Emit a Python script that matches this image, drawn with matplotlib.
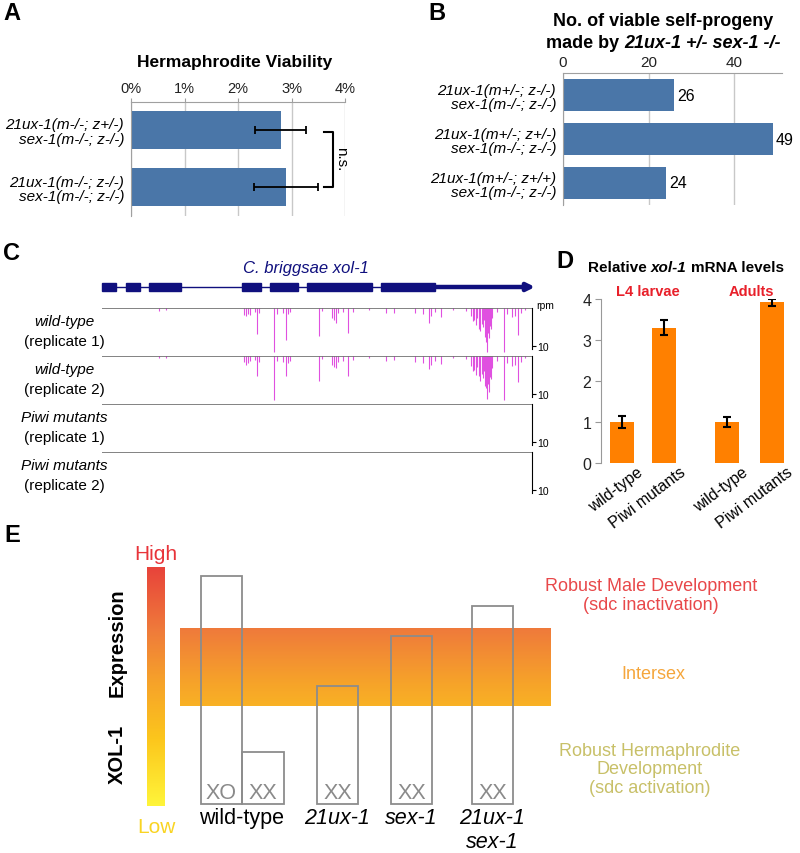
import numpy as np
import matplotlib
matplotlib.use("Agg")
import matplotlib.pyplot as plt
from matplotlib.colors import LinearSegmentedColormap, Normalize

plt.rcParams['font.family'] = ['Liberation Sans', 'DejaVu Sans']

# ======================= DATA =======================
# Panel A - Hermaphrodite viability (%)
a_labels = ["21ux-1(m-/-; z+/-)\nsex-1(m-/-; z-/-)",
            "21ux-1(m-/-; z-/-)\nsex-1(m-/-; z-/-)"]
a_values = [2.80, 2.90]
a_errors = [0.48, 0.60]
a_ticks = [0, 1, 2, 3, 4]
a_ticklabels = ["0%", "1%", "2%", "3%", "4%"]

# Panel B - number of viable self-progeny
b_labels = ["21ux-1(m+/-; z-/-)\nsex-1(m-/-; z-/-)",
            "21ux-1(m+/-; z+/-)\nsex-1(m-/-; z-/-)",
            "21ux-1(m+/-; z+/+)\nsex-1(m-/-; z-/-)"]
b_values = [26, 49, 24]
b_ticks = [0, 20, 40]

# Panel C - gene model (locus coordinate units) and small RNA reads (rpm)
exon_starts = [0, 24, 47, 140, 168, 205, 279]
exon_ends = [14, 38, 79, 159, 196, 270, 333]
utr_end = 433
locus_len = 430
read_pos = [57, 64, 142, 144, 146, 148, 153, 155, 157, 172,
            175, 181, 184, 186, 188, 217, 220, 230, 232, 234,
            236, 241, 246, 251, 267, 284, 292, 313, 321, 327,
            329, 333, 339, 351, 364, 369, 371, 372, 374, 375,
            377, 378, 380, 381, 382, 383, 384, 385, 386, 387,
            388, 389, 390, 395, 402, 405, 410, 413, 416, 419, 423]
wt_rep1 = [0.8, 0.5, 1.8, 2.1, 1.6, 1.8, 1.1, 6.8, 1.3, 11.6,
           1.6, 1.3, 8.4, 1.6, 1.1, 7.4, 0.8, 2.6, 3.2, 3.9,
           1.3, 1.1, 6.6, 1.1, 0.5, 1.3, 1.3, 1.3, 1.6, 3.9,
           2.1, 1.1, 2.4, 0.5, 0.8, 2.1, 3.5, 3.2, 4.5, 2.6,
           5.5, 6.0, 4.2, 5.0, 3.2, 7.5, 9.0, 11.6, 6.6, 8.0,
           4.7, 5.5, 2.6, 1.1, 11.6, 1.6, 2.4, 2.1, 7.1, 1.3, 0.5]
wt_rep2 = [0.6, 0.4, 1.6, 2.4, 1.8, 1.4, 1.0, 5.3, 1.5, 11.6,
           1.3, 1.5, 5.3, 1.8, 1.2, 6.6, 0.9, 2.4, 2.9, 3.2,
           1.5, 1.2, 5.3, 1.0, 0.6, 1.4, 1.1, 1.5, 1.8, 3.4,
           2.4, 1.3, 2.2, 0.6, 0.9, 2.6, 4.0, 3.7, 5.0, 3.0,
           5.3, 6.5, 4.7, 5.8, 3.9, 8.0, 8.5, 11.3, 7.4, 9.5,
           5.5, 6.0, 3.2, 1.3, 11.6, 1.8, 2.6, 2.4, 6.8, 1.5, 0.6]
piwi_rep1 = []   # no reads detected
piwi_rep2 = []
track_titles = [("wild-type", "(replicate 1)"), ("wild-type", "(replicate 2)"),
                ("Piwi mutants", "(replicate 1)"), ("Piwi mutants", "(replicate 2)")]
tracks = [(read_pos, wt_rep1), (read_pos, wt_rep2), ([], piwi_rep1), ([], piwi_rep2)]

# Panel D - relative xol-1 mRNA levels
d_labels = ["wild-type", "Piwi mutants", "wild-type", "Piwi mutants"]
d_groups = ["L4 larvae", "Adults"]
d_values = [1.0, 3.3, 1.0, 3.92]
d_errors = [0.14, 0.18, 0.11, 0.08]
d_ticks = [0, 1, 2, 3, 4]

# Panel E - XOL-1 expression model (arbitrary level 0-10)
e_genotypes = ["wild-type", "21ux-1", "sex-1", "21ux-1\nsex-1"]
e_karyotypes = [["XO", "XX"], ["XX"], ["XX"], ["XX"]]
e_levels = [[10.0, 2.28], [5.18], [7.37], [8.68]]
e_intersex = [4.30, 7.68]
e_outcomes = ["Robust Male Development\n(sdc inactivation)", "Intersex",
              "Robust Hermaphrodite\nDevelopment\n(sdc activation)"]

# ======================= LAYOUT =======================
W, H = 800, 854
fig = plt.figure(figsize=(W / 100, H / 100), dpi=100)


def px_axes(l, t, r, b):
    return fig.add_axes([l / W, 1 - b / H, (r - l) / W, (b - t) / H])


def ftext(x, y, s, **kw):
    kw.setdefault('ha', 'center')
    kw.setdefault('va', 'center')
    return fig.text(x / W, 1 - y / H, s, **kw)


renderer = fig.canvas.get_renderer()


def chain_text(xc, y, parts, size, color='black'):
    texts, widths = [], []
    gap = 0.28 * size * 100 / 72
    for s, style in parts:
        t = fig.text(0, 0, s, fontsize=size, color=color, ha='left', va='center', **style)
        texts.append(t)
        widths.append(t.get_window_extent(renderer).width)
    total = sum(widths) + gap * (len(parts) - 1)
    x = xc - total / 2
    for t, w in zip(texts, widths):
        t.set_position((x / W, 1 - y / H))
        x += w + gap


blue = '#4a76a8'
gridc = '#c8c8c8'
spinec = '#a0a0a0'

# Panel letters
for letter, (x, y) in zip("ABCDE", [(12, 14), (437, 14), (12, 254), (565, 262), (12, 535)]):
    ftext(x, y, letter, fontsize=17, fontweight='bold')

# ---------------- Panel A ----------------
axA = px_axes(131, 102.5, 345, 216.5)
axA.barh(range(len(a_values)), a_values, height=0.667, color=blue, zorder=2,
         xerr=a_errors, error_kw=dict(ecolor='black', lw=1.3, capsize=3, capthick=1.3, zorder=3))
axA.set_xlim(0, 4)
axA.set_ylim(1.5, -0.5)
axA.xaxis.tick_top()
axA.set_xticks(a_ticks)
axA.set_xticklabels(a_ticklabels, fontsize=10.5, color='#222')
axA.tick_params(axis='x', length=3, color=spinec, pad=2)
axA.grid(axis='x', color=gridc, lw=1)
axA.set_axisbelow(True)
axA.set_yticks(range(len(a_labels)))
axA.set_yticklabels(a_labels, fontsize=11, style='italic', linespacing=1.05)
axA.tick_params(axis='y', length=0, pad=5)
for s in ['bottom', 'right']:
    axA.spines[s].set_visible(False)
for s in ['left', 'top']:
    axA.spines[s].set_color(spinec)
axA.plot([3.6, 3.77, 3.77, 3.6], [0.03, 0.03, 1.0, 1.0], color='black', lw=1.5, clip_on=False)
axA.text(3.92, 0.5, "n.s.", rotation=270, ha='center', va='center', fontsize=11, clip_on=False)
ftext(235, 62, "Hermaphrodite Viability", fontsize=12.5, fontweight='bold')

# ---------------- Panel B ----------------
axB = px_axes(563, 74, 782, 206)
axB.barh(range(len(b_values)), b_values, height=0.727, color=blue, zorder=2)
axB.set_xlim(0, 51.2)
axB.set_ylim(2.5, -0.5)
axB.xaxis.tick_top()
axB.set_xticks(b_ticks)
axB.set_xticklabels([str(t) for t in b_ticks], fontsize=11, color='#222')
axB.tick_params(axis='x', length=0, pad=3)
axB.grid(axis='x', color=gridc, lw=1)
axB.set_axisbelow(True)
axB.set_yticks(range(len(b_labels)))
axB.set_yticklabels(b_labels, fontsize=11, style='italic', linespacing=1.05)
axB.tick_params(axis='y', length=0, pad=5)
for s in ['bottom', 'right']:
    axB.spines[s].set_visible(False)
for s in ['left', 'top']:
    axB.spines[s].set_color(spinec)
for i, v in enumerate(b_values):
    axB.text(v + 0.8, i, str(v), va='center', ha='left', fontsize=11.5, clip_on=False)
ftext(663, 22, "No. of viable self-progeny", fontsize=13, fontweight='bold')
chain_text(663, 43, [("made by", dict(fontweight='bold')),
                     ("21ux-1 +/- sex-1 -/-", dict(fontweight='bold', style='italic'))], 13)

# ---------------- Panel C ----------------
navy = '#10107e'
magenta = '#e050e0'
axG = px_axes(102, 280, 532, 296)
axG.set_xlim(0, locus_len)
axG.set_ylim(-1, 1)
axG.axis('off')
axG.plot([0, exon_ends[-1]], [0, 0], color=navy, lw=1, zorder=1)
for s0, s1 in zip(exon_starts, exon_ends):
    axG.add_patch(plt.Rectangle((s0, -0.5), s1 - s0, 1.0, color=navy, zorder=2, clip_on=False))
axG.annotate('', xy=(utr_end, 0), xytext=(exon_ends[-1], 0), annotation_clip=False,
             arrowprops=dict(arrowstyle='-|>', lw=3.2, color=navy, mutation_scale=11,
                             shrinkA=0, shrinkB=0))
ftext(306, 268, "C. briggsae xol-1", fontsize=12, style='italic', color=navy)

track_h = 48
rpm_scale = 3.8  # px per rpm
for i, ((pos, vals), (t1, t2)) in enumerate(zip(tracks, track_titles)):
    y0 = 309 + track_h * i
    ax = px_axes(102, y0, 532, y0 + track_h)
    ax.set_xlim(0, locus_len)
    ax.set_ylim(-track_h / rpm_scale, 0)
    if len(pos):
        ax.vlines(pos, -np.asarray(vals), 0, color=magenta, lw=0.8, zorder=2)
    ax.axhline(0, color='#606060', lw=1.1, zorder=3)
    for s in ['left', 'top', 'bottom']:
        ax.spines[s].set_visible(False)
    ax.spines['right'].set_bounds(-10.8, 0)
    ax.spines['right'].set_linewidth(0.8)
    ax.set_xticks([])
    ax.yaxis.tick_right()
    ax.set_yticks([-10])
    ax.set_yticklabels(["10"], fontsize=7.5)
    ax.tick_params(axis='y', length=3, width=0.8, pad=1)
    ax.patch.set_alpha(0)
    ftext(64, y0 + 13, t1, fontsize=11, style='italic')
    ftext(64, y0 + 33, t2, fontsize=11)
ftext(536, 306, "rpm", fontsize=7.5, ha='left')

# ---------------- Panel D ----------------
orange = '#ff8000'
axD = px_axes(601, 300, 795, 464)
unit = 42.0
d_x = [0.5, 1.51, 3.0, 4.07]
axD.bar(d_x, d_values, width=24 / unit, color=orange, zorder=2,
        yerr=d_errors, error_kw=dict(ecolor='black', lw=1.5, capsize=3, capthick=1.5))
axD.set_xlim(0, 194 / unit)
axD.set_ylim(0, 4)
axD.set_yticks(d_ticks)
axD.set_yticklabels([str(t) for t in d_ticks], fontsize=11.5, color='#222')
axD.tick_params(axis='y', length=4, color='#999', pad=3)
axD.set_xticks([])
for s in ['top', 'right', 'bottom']:
    axD.spines[s].set_visible(False)
axD.spines['left'].set_color('#999')
for x, lab in zip(d_x, d_labels):
    axD.text(x + 19 / unit, -7 / 164 * 4, lab, rotation=37, ha='right', va='center',
             rotation_mode='anchor', fontsize=11.5, clip_on=False)
chain_text(686, 268, [("Relative", dict(fontweight='bold')),
                      ("xol-1", dict(fontweight='bold', style='italic')),
                      ("mRNA levels", dict(fontweight='bold'))], 11)
red = '#e8202a'
ftext(648, 292, d_groups[0], fontsize=10.5, fontweight='bold', color=red)
ftext(751, 292, d_groups[1], fontsize=10.5, fontweight='bold', color=red)

# ---------------- Panel E ----------------
cmap = LinearSegmentedColormap.from_list(
    'xol', [(0.0, '#fff53a'), (0.28, '#fcc61c'), (0.52, '#f6a22a'),
            (0.74, '#ef7a3b'), (1.0, '#e8433a')])
e_px = 22.8  # px per level unit
norm = Normalize(vmin=-2 / e_px, vmax=237 / e_px)

axCB = px_axes(147, 568, 165, 807)
grad = np.linspace(norm.vmax, norm.vmin, 256).reshape(-1, 1)
axCB.imshow(grad, cmap=cmap, norm=norm, aspect='auto',
            extent=[0, 1, norm.vmin, norm.vmax], origin='upper')
axCB.axis('off')
ftext(156, 555, "High", fontsize=15, color='#e8343a')
ftext(156, 828, "Low", fontsize=15, color='#f9d423')
ftext(117, 754, "XOL-1", fontsize=14.5, fontweight='bold', rotation=90)
ftext(117, 643, "Expression", fontsize=14.5, fontweight='bold', rotation=90)

axE = px_axes(180, 560, 551, 805)
band_lo, band_hi = e_intersex
bgrad = np.linspace(band_hi, band_lo, 128).reshape(-1, 1)
axE.imshow(bgrad, cmap=cmap, norm=norm, aspect='auto',
           extent=[0, 371, band_lo, band_hi], origin='upper', zorder=1)
axE.set_xlim(0, 371)
axE.set_ylim(0, 245 / e_px)
axE.axis('off')
box_w = 41.5
group_x = [62, 157.5, 231.5, 312.5]
boxc = '#8c8c8c'
for gx, gname, karyos, levels in zip(group_x, e_genotypes, e_karyotypes, e_levels):
    n = len(levels)
    for j, (k, lv) in enumerate(zip(karyos, levels)):
        bx = gx + (j - (n - 1) / 2) * box_w
        axE.bar(bx, lv, width=box_w, bottom=0, facecolor='none', edgecolor=boxc,
                lw=1.3, zorder=3, clip_on=False)
        axE.text(bx, 11 / e_px, k, ha='center', va='center', fontsize=15.5, color='#8a8a8a', zorder=4)
    axE.text(gx, -3 / e_px, gname, ha='center', va='top', fontsize=15.5,
             style='normal' if gname == 'wild-type' else 'italic',
             linespacing=1.17, clip_on=False)

outcome_colors = ['#e8484a', '#f5a63c', '#c8c068']
ftext(651, 596, e_outcomes[0], fontsize=13, color=outcome_colors[0], linespacing=1.15)
ftext(653, 675, e_outcomes[1], fontsize=13, color=outcome_colors[1])
ftext(650, 770, e_outcomes[2], fontsize=13, color=outcome_colors[2], linespacing=1.15)

fig.savefig("out.png", dpi=100)
